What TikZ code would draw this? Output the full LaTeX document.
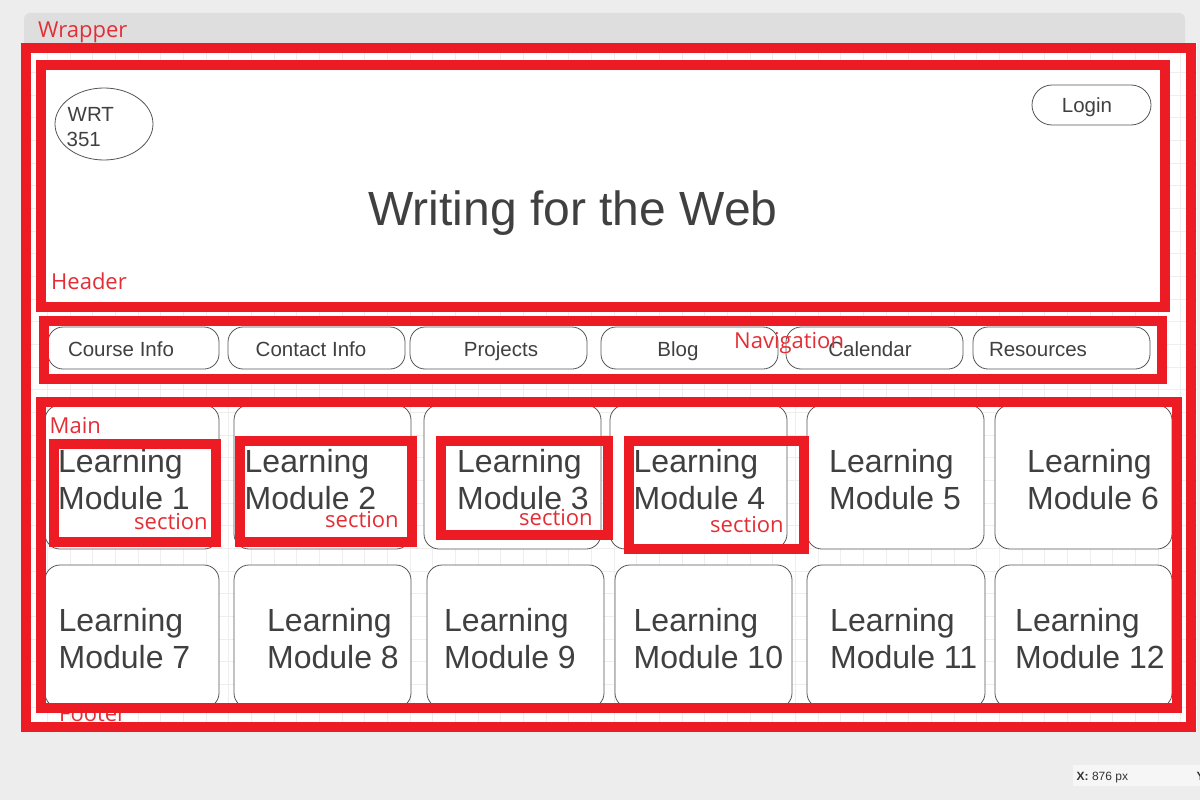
\documentclass[tikz,border=0pt]{standalone}
\usepackage{fontspec}
\setmainfont{Liberation Sans}
\newfontfamily\lblfamily{Open Sans}
\usetikzlibrary{shapes.geometric}
\definecolor{frame}{HTML}{ED1C24}
\definecolor{lblred}{HTML}{E42E36}
\definecolor{ink}{HTML}{404040}
\definecolor{edge}{HTML}{555555}
\definecolor{canvasbg}{HTML}{EDEDED}
\definecolor{tabbg}{HTML}{DEDEDE}
\definecolor{gridline}{HTML}{EEEEEE}
\definecolor{statusbg}{HTML}{F6F6F6}
\definecolor{statusink}{HTML}{333333}
\begin{document}
\begin{tikzpicture}[x=1pt,y=-1pt,
  redframe/.style={draw=frame,line width=10pt},
  modbox/.style={draw=edge,line width=0.8pt,fill=white,rounded corners=15pt,inner sep=0pt},
  navbtn/.style={draw=edge,line width=0.8pt,fill=white,rounded corners=15pt,inner sep=0pt,minimum height=42pt},
  modtext/.style={text=ink,inner sep=0pt,anchor=base west,font=\fontsize{32}{37}\selectfont},
  navtext/.style={text=ink,inner sep=0pt,anchor=base,font=\fontsize{20.5}{24}\selectfont},
  tag/.style={text=lblred,inner sep=0pt,anchor=base west,font=\lblfamily\fontsize{22}{26}\selectfont},
]
\useasboundingbox (0,0) rectangle (1200,800);
% background
\fill[canvasbg] (0,0) rectangle (1200,800);
\fill[tabbg,rounded corners=6pt] (24,13) rectangle (1185,60);
\fill[white] (21,43) rectangle (1197,732);
\begin{scope}
  \clip (21,43) rectangle (1197,732);
  \foreach \k in {0,...,52} {\draw[gridline,line width=0.8pt] ({2+\k*22.67},43) -- ({2+\k*22.67},732);}
  \foreach \k in {0,...,32} {\draw[gridline,line width=0.8pt] (21,{4.3+\k*22.67}) -- (1197,{4.3+\k*22.67});}
\end{scope}
\node[tag] (wraplbl) at (38,37.7) {Wrapper};

% header
\draw[draw=edge,fill=white,line width=0.8pt] (41,65) rectangle (1160,307);
\node[ellipse,draw=edge,line width=0.8pt,fill=white,minimum width=98pt,minimum height=72pt,inner sep=0pt] (logo) at (104,124) {};
\node[text=ink,inner sep=0pt,anchor=base west,font=\fontsize{20.5}{24}\selectfont] (logoa) at (67.5,121.7) {WRT};
\node[text=ink,inner sep=0pt,anchor=base west,font=\fontsize{20.5}{24}\selectfont] (logob) at (66.5,146) {351};
\node[draw=edge,line width=0.8pt,fill=white,rounded corners=20pt,minimum width=119pt,minimum height=40pt,inner sep=0pt] (login) at (1091.5,105) {};
\node[navtext] (logintext) at (1087,112.7) {Login};
\node[text=ink,inner sep=0pt,anchor=base,font=\fontsize{48}{56}\selectfont] (title) at (573,225) {Writing for the Web};

% navigation
\fill[white] (44,321) rectangle (1162,378.5);
\foreach \nm/\xa/\xb/\tx/\lab in {b1/48/219/121/Course Info, b2/228/405/311/Contact Info, b3/410/587/501/Projects, b4/601/778/678/Blog, b5/786/963/870/Calendar, b6/973/1150/1038/Resources} {
  \node[navbtn,minimum width={\xb-\xa}] (\nm) at ({(\xa+\xb)/2},348) {};
  \node[navtext] (\nm-t) at (\tx,356) {\lab};
}

% main modules
\foreach \n/\xa/\xb/\ya/\yb/\tx/\ba/\bb in {
  1/45/219/405/549/58/472/509,
  2/234/411/405/549/244.5/472/509,
  3/424/601/405/549/457/472/509,
  4/610/787/405/549/633.5/472/509,
  5/807/984/405/549/829/472/509,
  6/995/1172/405/549/1027/472/509,
  7/45/219/565/708/58.5/631/668.5,
  8/234/411/565/708/267/631/668.5,
  9/427/604/565/708/444/631/668.5,
  10/615/792/565/708/633.5/631/668.5,
  11/807/985/565/708/830/631/668.5,
  12/995/1172/565/708/1015/631/668.5} {
  \node[modbox,minimum width={\xb-\xa},minimum height={\yb-\ya}] (m\n) at ({(\xa+\xb)/2},{(\ya+\yb)/2}) {};
  \node[modtext] (m\n-a) at (\tx,\ba) {Learning};
  \node[modtext] (m\n-b) at (\tx,\bb) {Module \n};
}

% footer label (partly under the frames)
\node[tag] (footlbl) at (59,721.7) {Footer};

% section frames
\draw[redframe] (54,444) rectangle (216,542);
\draw[redframe] (240,441) rectangle (412,542);
\draw[redframe] (441,441) rectangle (608,535);
\draw[redframe] (629,441) rectangle (804,549);

% region frames
\draw[redframe] (26,48) rectangle (1191,727);
\draw[redframe] (41,65) rectangle (1165,307);
\draw[redframe] (44,321) rectangle (1162,378.5);
\draw[redframe] (41,401.5) rectangle (1177,708);

% labels
\node[tag] (headlbl) at (51,289) {Header};
\node[tag] (navlbl) at (734,348.7) {Navigation};
\node[tag] (mainlbl) at (49.5,433.3) {Main};
\node[tag] (s1lbl) at (134,529.3) {section};
\node[tag] (s2lbl) at (325,527.3) {section};
\node[tag] (s3lbl) at (519,525) {section};
\node[tag] (s4lbl) at (710,532.7) {section};

% status readout
\fill[statusbg] (1073,765) rectangle (1200,786);
\node[text=statusink,inner sep=0pt,anchor=base west,font=\fontsize{12}{14}\selectfont] (xread) at (1076.5,780.5) {\textbf{X:} 876 px};
\node[text=statusink,inner sep=0pt,anchor=base west,font=\bfseries\fontsize{12}{14}\selectfont] (yread) at (1196.5,780.5) {Y};
\end{tikzpicture}
\end{document}
